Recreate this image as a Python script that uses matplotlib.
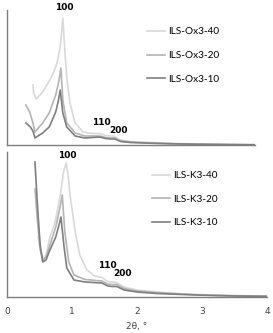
import matplotlib
matplotlib.use("Agg")
import matplotlib.pyplot as plt

# ---- data (2θ in degrees, intensity in arbitrary units) ----
ox40_x = [0.40, 0.41, 0.45, 0.55, 0.66, 0.72, 0.77, 0.82, 0.86, 0.89, 0.92, 0.97, 1.05, 1.17, 1.3, 1.43, 1.52, 1.6, 1.66, 1.75, 1.9, 2.2, 2.6, 3.0, 3.4, 3.82]
ox40_y = [60, 52, 46, 53, 65, 73, 82, 98, 127, 95, 68, 42, 22, 13, 11.5, 11.5, 9.5, 9, 8.5, 5, 3.5, 2.5, 1.5, 1, 0.6, 0.3]
ox20_x = [0.29, 0.35, 0.40, 0.43, 0.55, 0.65, 0.75, 0.80, 0.83, 0.86, 0.92, 1.05, 1.2, 1.43, 1.52, 1.6, 1.66, 1.75, 1.9, 2.2, 2.6, 3.0, 3.4, 3.82]
ox20_y = [40, 33, 22, 13, 22, 32, 50, 64, 77, 45, 22, 12, 9, 9, 7.5, 7, 7, 4, 3, 2, 1.2, 0.8, 0.5, 0.3]
ox10_x = [0.29, 0.36, 0.40, 0.43, 0.55, 0.65, 0.75, 0.79, 0.82, 0.86, 0.92, 1.05, 1.2, 1.43, 1.52, 1.6, 1.66, 1.75, 1.9, 2.2, 2.6, 3.0, 3.4, 3.82]
ox10_y = [22, 18, 14, 7, 12, 18, 33, 44, 55, 32, 18, 9, 7, 8, 6.5, 6, 6, 3.5, 2.5, 1.8, 1.1, 0.7, 0.4, 0.2]

k40_x = [0.48, 0.52, 0.56, 0.60, 0.66, 0.74, 0.82, 0.87, 0.91, 0.94, 0.97, 1.05, 1.12, 1.23, 1.35, 1.46, 1.55, 1.62, 1.69, 1.8, 2.0, 2.3, 2.7, 3.0, 3.5, 4.0]
k40_y = [60, 45, 38, 42, 60, 75, 102, 125, 134, 122, 102, 65, 42, 27, 21, 19.5, 15.5, 15, 14.5, 10, 7, 5, 3, 2.3, 1.5, 1]
k20_x = [0.43, 0.47, 0.51, 0.55, 0.60, 0.66, 0.75, 0.81, 0.85, 0.89, 0.95, 1.03, 1.2, 1.46, 1.55, 1.62, 1.69, 1.8, 2.0, 2.3, 2.7, 3.0, 3.5, 4.0]
k20_y = [108, 75, 48, 36, 40, 52, 70, 88, 102, 65, 35, 22, 17.5, 16, 13, 12.5, 12.5, 8.5, 6, 4.5, 3, 2, 1.2, 0.8]
k10_x = [0.43, 0.47, 0.51, 0.55, 0.60, 0.66, 0.75, 0.80, 0.83, 0.88, 0.92, 1.03, 1.2, 1.46, 1.55, 1.62, 1.69, 1.8, 2.0, 2.3, 2.7, 3.0, 3.5, 4.0]
k10_y = [135, 90, 52, 35, 37, 47, 60, 72, 80, 49, 29, 17, 15, 14, 11, 10.5, 10.5, 7, 5, 3.5, 2.5, 1.8, 1, 0.6]

top_labels = ["ILS-Ox3-40", "ILS-Ox3-20", "ILS-Ox3-10"]
bot_labels = ["ILS-K3-40", "ILS-K3-20", "ILS-K3-10"]
xticks = [0, 1, 2, 3, 4]

colors = ["#d9d9d9", "#b4b4b4", "#7f7f7f"]
LEG_FONT = "Lato"
TICK_FONT = "DejaVu Sans"

W, H = 273, 333
fig = plt.figure(figsize=(W / 100, H / 100), dpi=100)


def px_axes(x0, y0, x1, y1):
    return fig.add_axes([x0 / W, 1 - y1 / H, (x1 - x0) / W, (y1 - y0) / H])


def style(ax):
    for s in ["top", "right"]:
        ax.spines[s].set_visible(False)
    for s in ["left", "bottom"]:
        ax.spines[s].set_color("#7f7f7f")
        ax.spines[s].set_linewidth(1.0)
    ax.tick_params(length=0)
    ax.set_yticks([])


leg_kw = dict(loc="upper left", frameon=False, prop={"family": LEG_FONT, "size": 7.2},
              handlelength=1.8, handletextpad=0.3, labelspacing=1.45, borderaxespad=0.0,
              borderpad=0.0)
tk = dict(family=TICK_FONT, size=6.5, fontweight="bold", ha="center", va="center", clip_on=False)

# top panel
ax1 = px_axes(7, 10, 255, 145)
ax1.set_xlim(0, 3.82)
ax1.set_ylim(0, 135)
style(ax1)
ax1.set_xticks([])
for xs, ys, c, lab in zip([ox40_x, ox20_x, ox10_x], [ox40_y, ox20_y, ox10_y], colors, top_labels):
    ax1.plot(xs, ys, color=c, lw=1.2, label=lab)
ax1.legend(bbox_to_anchor=((147 - 7) / 248, (145 - 27.5) / 135), **leg_kw)
ax1.text(0.89, 137, "100", **tk)
ax1.text(1.46, 23, "110", **tk)
ax1.text(1.71, 15, "200", **tk)

# bottom panel
ax2 = px_axes(7, 152, 267, 297)
ax2.set_xlim(0, 4)
ax2.set_ylim(0, 145)
style(ax2)
ax2.set_xticks(xticks)
ax2.set_xticklabels([str(t) for t in xticks], family=TICK_FONT, size=6.5, color="#404040")
ax2.tick_params(axis="x", pad=7.5)
for xs, ys, c, lab in zip([k40_x, k20_x, k10_x], [k40_y, k20_y, k10_y], colors, bot_labels):
    ax2.plot(xs, ys, color=c, lw=1.2, label=lab)
ax2.legend(bbox_to_anchor=((152 - 7) / 260, (297 - 171) / 145), **leg_kw)
ax2.text(0.92, 141, "100", **tk)
ax2.text(1.54, 32, "110", **tk)
ax2.text(1.77, 23, "200", **tk)
ax2.set_xlabel("2θ, °", family=TICK_FONT, size=6.5, color="#404040", labelpad=4)

fig.savefig("out.png", dpi=100)
